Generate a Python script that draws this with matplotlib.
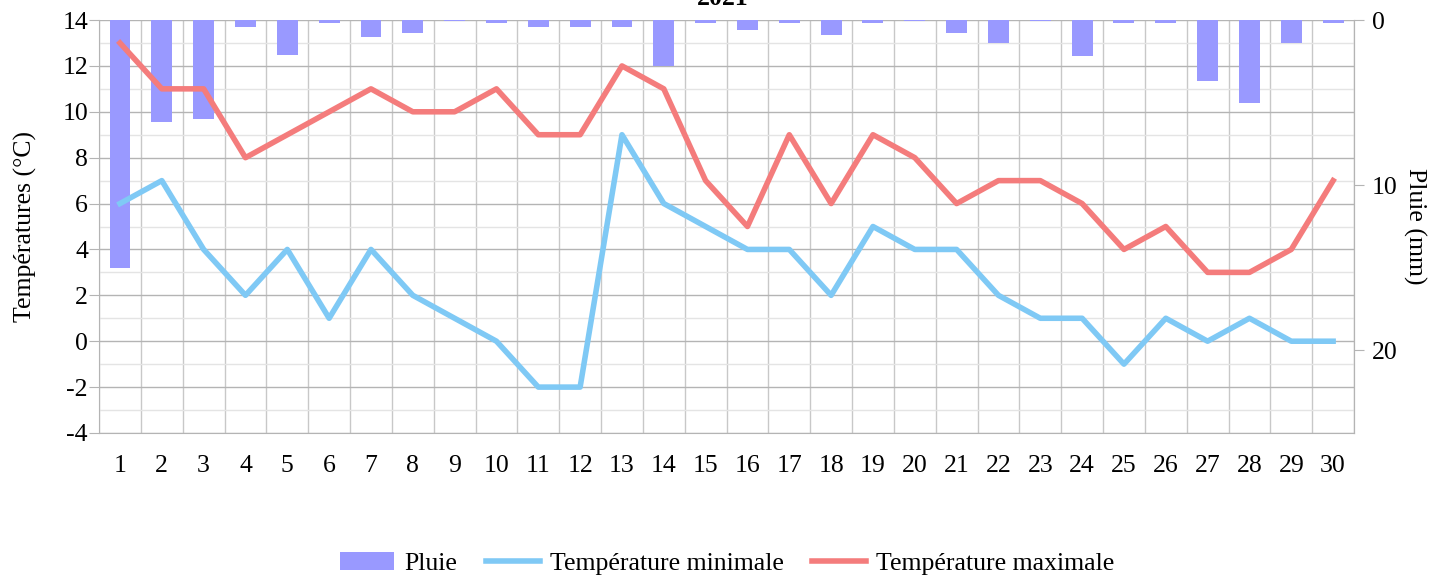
import matplotlib.pyplot as plt
from matplotlib.ticker import MultipleLocator

plt.rcParams["font.family"] = ["Liberation Serif", "DejaVu Serif"]
plt.rcParams["axes.unicode_minus"] = False

days = list(range(1, 31))
pluie = [15.0, 6.2, 6.0, 0.4, 2.1, 0.2, 1.0, 0.8, 0.05, 0.2,
         0.4, 0.4, 0.4, 2.8, 0.2, 0.6, 0.2, 0.9, 0.2, 0.05,
         0.8, 1.4, 0.05, 2.2, 0.2, 0.2, 3.7, 5.0, 1.4, 0.2]
t_min = [6, 7, 4, 2, 4, 1, 4, 2, 1, 0,
         -2, -2, 9, 6, 5, 4, 4, 2, 5, 4,
         4, 2, 1, 1, -1, 1, 0, 1, 0, 0]
t_max = [13, 11, 11, 8, 9, 10, 11, 10, 10, 11,
         9, 9, 12, 11, 7, 5, 9, 6, 9, 8,
         6, 7, 7, 6, 4, 5, 3, 3, 4, 7]

c_pluie = "#9999ff"
c_min = "#7fc9f5"
c_max = "#f47c7c"
grid_col = "#b4b4b4"
fs = 18.5

fig = plt.figure(figsize=(14.46, 5.77), dpi=100)
rect = [0.0685, 0.2496, 0.8679, 0.7157]

# axe des températures : graduations, titre et grille (couche du fond)
ax = fig.add_axes(rect)
ax.set_xlim(0.5, 30.5)
ax.set_ylim(-4, 14)
ax.yaxis.set_major_locator(MultipleLocator(2))
ax.yaxis.set_minor_locator(MultipleLocator(1))
ax.set_xticks(days)
ax.set_xticks([d + 0.5 for d in range(0, 31)], minor=True)
ax.grid(which="major", axis="y", color=grid_col, lw=1.0)
ax.grid(which="minor", axis="y", color="#e4e4e4", lw=1.0)
ax.grid(which="minor", axis="x", color="#c8c8c8", lw=1.0)
ax.tick_params(axis="x", which="both", length=0, pad=16, labelsize=fs)
ax.tick_params(axis="y", which="major", length=7, color=grid_col, pad=1, labelsize=fs)
ax.tick_params(axis="y", which="minor", length=0)
ax.set_ylabel("Températures (°C)", fontsize=fs, labelpad=18)
for s in ax.spines.values():
    s.set_color(grid_col)
ax.spines["top"].set_visible(False)
ax.set_axisbelow(True)

# axe de la pluie (couche du milieu)
axr = ax.twinx()
axr.patch.set_visible(False)
axr.bar(days, pluie, width=0.5, color=c_pluie, label="Pluie", zorder=2)
axr.set_ylim(25, 0)
axr.set_yticks([0, 10, 20])
axr.tick_params(axis="y", length=7, color=grid_col, pad=6, labelsize=fs)
axr.set_ylabel("Pluie (mm)", fontsize=fs, rotation=270, labelpad=20)
for s in axr.spines.values():
    s.set_visible(False)
axr.spines["right"].set_visible(True)
axr.spines["right"].set_color(grid_col)

# courbes au-dessus
axl = fig.add_axes(rect, sharex=ax, sharey=ax)
axl.patch.set_visible(False)
axl.axis("off")
axl.plot(days, t_min, color=c_min, lw=4.0, label="Température minimale")
axl.plot(days, t_max, color=c_max, lw=4.0, label="Température maximale")

# titre coupé en haut, comme sur l'original
fig.text(0.5, 1.002, "2021", ha="center", va="center", fontsize=fs, fontweight="bold")

h1, l1 = axr.get_legend_handles_labels()
h2, l2 = axl.get_legend_handles_labels()
fig.legend(h1 + h2, l1 + l2, loc="center", bbox_to_anchor=(0.503, 0.024), ncol=3,
           frameon=False, fontsize=fs, handlelength=2.1, columnspacing=1.1,
           handletextpad=0.4)

fig.savefig("out.png", dpi=100)
